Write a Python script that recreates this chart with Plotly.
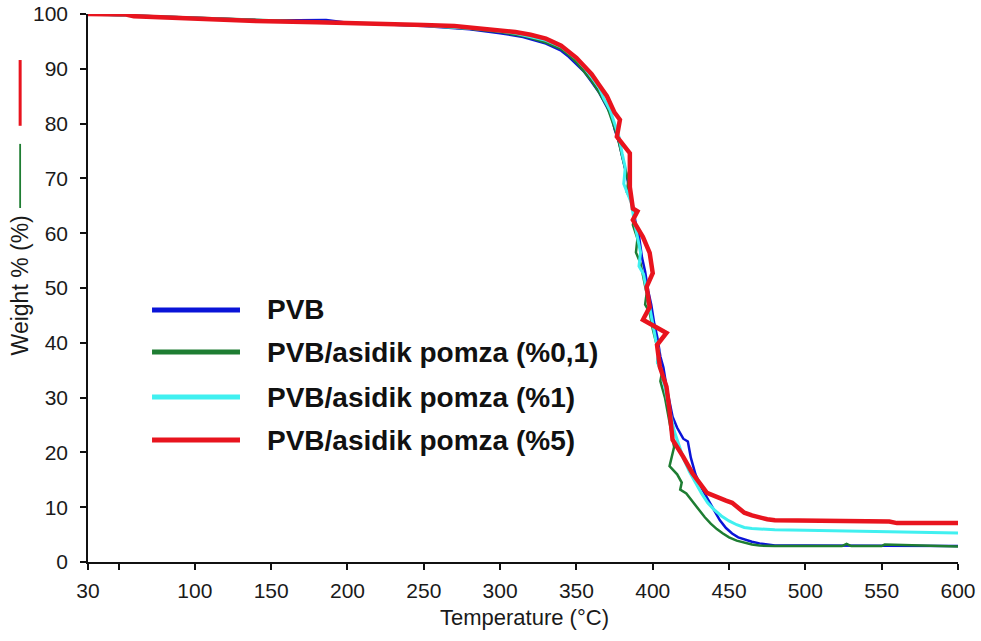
import plotly.graph_objects as go

# Thermogravimetric curves: weight loss of PVB and PVB / acidic pumice composites
t_pvb = [30, 60, 100, 150, 186, 200, 250, 280, 300, 315, 330, 340, 345, 350, 355, 360, 365,
         370, 373, 375, 378, 380, 383, 385, 387, 389, 391, 393, 395, 397, 399, 401, 403, 405,
         407, 409, 411, 413, 416, 420, 423, 425, 428, 432, 436, 440, 444, 448, 452, 456, 460,
         465, 470, 475, 480, 500, 550, 600]
w_pvb = [100.0, 99.7, 99.3, 98.8, 98.9, 98.4, 97.8, 97.2, 96.5, 95.8, 94.6, 93.3, 92.2, 90.8,
         89.5, 87.6, 85.6, 83.0, 81.5, 79.0, 76.5, 74.0, 70.5, 67.5, 65.0, 61.5, 59.5, 55.5,
         53.0, 49.5, 47.0, 43.5, 41.0, 37.5, 35.5, 32.0, 29.0, 26.5, 24.5, 22.5, 22.0, 19.0,
         16.0, 13.5, 11.5, 9.5, 7.6, 6.2, 5.2, 4.5, 4.1, 3.7, 3.4, 3.2, 3.0, 3.0, 2.95, 2.9]

t_p01 = [30, 60, 100, 150, 200, 250, 280, 300, 315, 330, 340, 345, 350, 355, 360, 365, 370,
         374, 377, 380, 382, 384, 383, 386, 388, 387, 390, 389, 392, 394, 396, 395, 398, 400,
         402, 404, 403, 406, 405, 408, 410, 412, 414, 411, 416, 419, 418, 422, 426, 430, 434,
         438, 442, 446, 450, 455, 460, 465, 470, 480, 500, 524, 527, 530, 550, 552, 600]
w_p01 = [100.0, 99.7, 99.3, 98.8, 98.4, 97.9, 97.3, 96.7, 96.0, 94.8, 93.6, 92.5, 91.2, 89.6,
         87.8, 85.6, 83.2, 80.0, 77.5, 74.0, 71.5, 69.5, 67.5, 66.0, 63.0, 61.5, 59.0, 56.5,
         54.5, 51.5, 49.0, 47.0, 45.5, 42.5, 40.5, 38.0, 36.5, 34.5, 33.0, 30.0, 27.0, 24.0,
         21.0, 17.5, 16.0, 14.5, 13.2, 12.5, 11.0, 9.5, 8.2, 7.0, 6.0, 5.2, 4.5, 3.9, 3.5,
         3.2, 3.0, 2.9, 2.9, 2.9, 3.3, 2.9, 2.9, 3.2, 2.85]

t_p1 = [30, 60, 100, 150, 200, 250, 290, 310, 330, 340, 350, 355, 360, 365, 368, 372, 375,
        378, 380, 382, 381, 384, 386, 388, 390, 392, 391, 394, 396, 398, 400, 402, 404, 403,
        406, 408, 410, 412, 414, 417, 420, 424, 428, 432, 436, 440, 445, 450, 455, 460, 465,
        470, 480, 500, 520, 550, 575, 600]
w_p1 = [100.0, 99.7, 99.2, 98.7, 98.4, 97.9, 97.2, 96.5, 95.2, 94.0, 91.8, 90.3, 88.5, 86.5,
        84.5, 82.5, 80.0, 77.5, 74.5, 72.0, 69.0, 67.0, 65.5, 62.0, 59.0, 56.5, 54.0, 52.5,
        49.5, 46.5, 43.5, 40.5, 38.5, 36.5, 34.5, 31.5, 29.0, 26.5, 24.0, 21.5, 19.0, 16.5,
        14.5, 12.5, 10.8, 9.6, 8.4, 7.5, 6.8, 6.3, 6.1, 6.0, 5.9, 5.8, 5.7, 5.5, 5.4, 5.3]

t_p5 = [30, 55, 60, 85, 110, 140, 180, 220, 250, 270, 290, 310, 320, 330, 340, 345, 350, 355,
        360, 365, 370, 375, 378.5, 376.5, 385, 385, 387, 390, 387, 393.6, 398, 400, 396, 398,
        393.6, 409, 402.8, 404.7, 409, 411, 413, 420, 426, 435.5, 442, 448, 452, 456, 460,
        465, 470, 475, 480, 500, 520, 545, 555, 560, 600]
w_p5 = [100.0, 99.9, 99.6, 99.3, 99.0, 98.7, 98.5, 98.3, 98.0, 97.8, 97.3, 96.7, 96.2, 95.5,
        94.2, 93.2, 92.0, 90.5, 89.0, 87.0, 85.0, 82.0, 80.7, 77.6, 74.6, 68.4, 64.5, 64.0,
        62.4, 59.3, 56.4, 52.7, 50.2, 46.5, 44.2, 41.8, 39.6, 35.6, 32.0, 27.7, 22.3, 19.2,
        16.2, 12.6, 11.8, 11.2, 10.8, 9.8, 9.0, 8.5, 8.1, 7.8, 7.6, 7.6, 7.6, 7.5, 7.4, 7.1,
        7.1]

series = [
    ("PVB", t_pvb, w_pvb, "#0a14d8", 2.5),
    ("PVB/asidik pomza (%0,1)", t_p01, w_p01, "#1e7d32", 2.5),
    ("PVB/asidik pomza (%1)", t_p1, w_p1, "#40f0f0", 3),
    ("PVB/asidik pomza (%5)", t_p5, w_p5, "#e8141e", 4.5),
]

x_ticks = [30, 50, 100, 150, 200, 250, 300, 350, 400, 450, 500, 550, 600]
x_ticktext = ["30", "", "100", "150", "200", "250", "300", "350", "400", "450", "500", "550", "600"]
y_ticks = [0, 10, 20, 30, 40, 50, 60, 70, 80, 90, 100]

FONT = "Arial, Liberation Sans, sans-serif"

fig = go.Figure()
for name, t, w, color, width in series:
    fig.add_trace(go.Scatter(x=t, y=w, mode="lines", name=name,
                             line=dict(color=color, width=width), showlegend=False))

# Hand-placed key inside the plot area
legend_y = [0.46, 0.383, 0.301, 0.2226]
for (name, _, _, color, _), ly in zip(series, legend_y):
    fig.add_shape(type="line", xref="paper", yref="paper", x0=0.0736, x1=0.1747,
                  y0=ly, y1=ly, line=dict(color=color, width=5))
    fig.add_annotation(text=f"<b>{name}</b>", xref="paper", yref="paper", x=0.2034, y=ly,
                       xanchor="left", yanchor="middle", showarrow=False,
                       font=dict(family=FONT, size=28, color="#111111"))

# Short coloured strokes beside the y-axis title
fig.add_shape(type="line", xref="paper", yref="y", x0=-0.078, x1=-0.078, y0=79.6, y1=91.6,
              line=dict(color="#e8141e", width=3))
fig.add_shape(type="line", xref="paper", yref="y", x0=-0.078, x1=-0.078, y0=64.6, y1=76.3,
              line=dict(color="#1e7d32", width=1.8))

# Axis titles
fig.add_annotation(text="Temperature (°C)", xref="paper", yref="paper", x=0.502, y=-0.1004,
                   xanchor="center", yanchor="middle", showarrow=False,
                   font=dict(family=FONT, size=22, color="#1a1a1a"))
fig.add_annotation(text="Weight % (%)", xref="paper", yref="paper", x=-0.078, y=0.505,
                   xanchor="center", yanchor="middle", showarrow=False, textangle=-90,
                   font=dict(family=FONT, size=23, color="#1a1a1a"))

axis_common = dict(showgrid=False, zeroline=False, showline=True, linecolor="#111111",
                   linewidth=1.5, ticks="outside", ticklen=6, tickwidth=1.5,
                   tickcolor="#111111", automargin=False,
                   tickfont=dict(family=FONT, size=21, color="#1a1a1a"))

fig.update_xaxes(range=[30, 600], tickmode="array", tickvals=x_ticks, ticktext=x_ticktext,
                 ticklabelstandoff=3, **axis_common)
fig.update_yaxes(range=[0, 100], tickmode="array", tickvals=y_ticks,
                 ticklabelstandoff=8, **axis_common)

fig.update_layout(width=981, height=641, margin=dict(l=88, r=23, t=14, b=79),
                  plot_bgcolor="white", paper_bgcolor="white",
                  font=dict(family=FONT))

fig.write_html("out.html")
